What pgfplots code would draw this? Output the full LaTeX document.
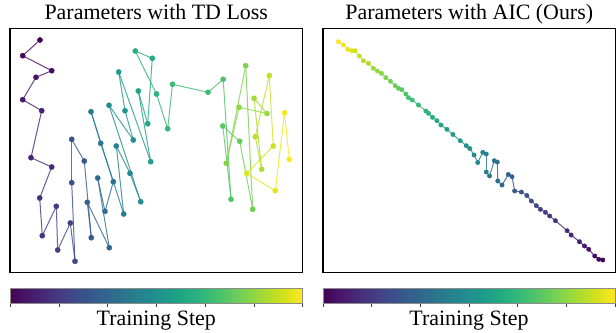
\documentclass[border=0pt]{standalone}
\usepackage{fontspec}
\setmainfont{Liberation Serif}
\usepackage{pgfplots}
\pgfplotsset{compat=1.18}
\usepackage{pgfplotstable}

\pgfplotstableread{
t x y
0 40 40
1 22.7 55.7
2 51.7 70.7
3 36 77.3
4 22.7 99.7
5 41.7 110.7
6 31 157.7
7 51.7 167
8 39.7 198
9 42.3 235.7
10 56.3 206.3
11 57.7 250
12 70.3 223
13 75 261.3
14 71.7 182.7
15 71.7 139.3
16 84.3 161
17 91.3 237.7
18 87.3 202.3
19 109.3 247.7
20 97.7 178
21 105 211.3
22 113.3 181.7
23 100.7 143.3
24 91 111.7
25 123.7 214
26 116.3 146
27 130 173.3
28 140.7 201.7
29 109 105.3
30 133.3 140
31 125 110.7
32 118.7 72
33 150.7 161.7
34 138.3 91
35 147.7 123.7
36 152.3 58.3
37 135.3 51
38 156.5 94
39 167.7 128.7
40 172.5 84.3
41 208 92.3
42 223.2 79.3
43 231 199.3
44 222.8 126
45 239.7 141.3
46 252.7 209.3
47 245.7 65.7
48 226.3 163.3
49 239 107.3
50 267 113.5
51 254 98.3
52 261.7 169.3
53 255.3 136.7
54 269.3 75.5
55 273.3 146
56 246.7 173.3
57 275.3 190.7
58 284.5 112.7
59 289.3 159.3
}\tdloss

\pgfplotstableread{
t x y
0 602.3 260
1 598.3 259.3
2 594.3 256
3 588.3 249.3
4 584 246
5 579 241.7
6 570.7 235
7 566.7 230.7
8 555 220.7
9 549.3 216
10 545 212.3
11 540 209.3
12 536 205.7
13 531 201
14 526.5 195.5
15 521 192
16 514.3 191
17 511.7 176.7
18 508 174.5
19 501.7 185
20 497.5 181
21 497 162
22 494 160.7
23 489.3 176
24 486 172
25 486 154
26 482.5 152.3
27 477.5 162.5
28 473.8 155
29 469.5 148.5
30 466 145.7
31 460 140.7
32 452.7 134.5
33 446.7 129.3
34 440.7 125
35 436.7 120.7
36 432.3 117.3
37 428.3 113.3
38 425.7 111
39 418.3 105
40 412 100
41 408.3 97.7
42 405.7 94
43 401.7 89.7
44 398.3 88.3
45 395 85.7
46 390.3 81.3
47 385.7 77.7
48 381.3 73.3
49 377.3 71
50 373.3 68.3
51 368.3 63.3
52 363.3 60.7
53 359.3 56
54 355 50.7
55 351.7 50.7
56 347.7 49.3
57 343.3 45
58 338.3 41.7
}\aic

\pgfplotsset{
  panel/.style={
    scale only axis, width=292.5bp, height=244bp, y dir=reverse,
    ymin=28.5, ymax=272.5,
    xtick=\empty, ytick=\empty,
    axis line style={line width=1.5bp},
    anchor=north west, colormap/viridis,
    title style={font=\fontsize{22}{26}\selectfont, anchor=base, at={(0.5,1)}, yshift=3bp},
    colorbar horizontal,
  },
  cbar/.style={
    at={(parent axis.south west)}, anchor=north west, yshift=-7.5bp,
    width=292.5bp, height=15bp, scale only axis,
    xticklabels={}, xtick pos=left, tick align=outside,
    major tick length=3.5bp, xtick style={draw=black!75, line width=0.5bp},
    ytick=\empty,
    axis line style={draw=black!45, line width=0.4bp},
    xlabel={Training Step},
    xlabel style={font=\fontsize{22}{26}\selectfont, at={(0.5,0)}, anchor=base, yshift=-22bp},
  },
}

\begin{document}
\begin{tikzpicture}
\path[use as bounding box] (0,0) rectangle (616bp,-333bp);
\begin{axis}[panel, at={(10bp,-28.5bp)}, xmin=10, xmax=302.5,
  title={Parameters with TD Loss},
  point meta min=0, point meta max=59,
  colorbar style={cbar, xtick={0,9.8333,19.6667,29.5,39.3333,49.1667,59}}]
\addplot[mesh, line width=1bp, opacity=0.8, point meta=\thisrow{t}] table[x=x,y=y] {\tdloss};
\addplot[scatter, only marks, mark=*, mark size=2.6bp, point meta=\thisrow{t},
  scatter/use mapped color={draw=mapped color, fill=mapped color}] table[x=x,y=y] {\tdloss};
\end{axis}
\begin{axis}[panel, at={(323bp,-28.5bp)}, xmin=323, xmax=615,
  title={Parameters with AIC (Ours)},
  point meta min=0, point meta max=58,
  colorbar style={cbar, width=292bp, xtick={0,9.6667,19.3333,29,38.6667,48.3333,58}}]
\addplot[mesh, line width=1bp, opacity=0.85, point meta=\thisrow{t}] table[x=x,y=y] {\aic};
\addplot[scatter, only marks, mark=*, mark size=2.2bp, point meta=\thisrow{t},
  scatter/use mapped color={draw=mapped color, fill=mapped color}] table[x=x,y=y] {\aic};
\end{axis}
\end{tikzpicture}
\end{document}
